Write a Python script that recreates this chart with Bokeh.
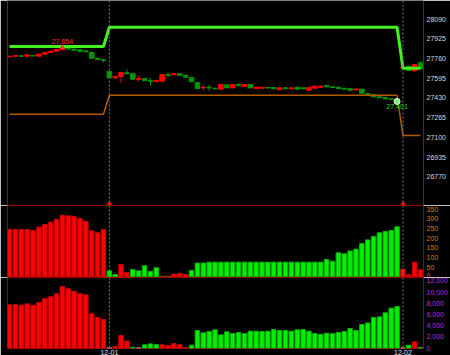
from bokeh.plotting import figure
from bokeh.layouts import column
from bokeh.models import Range1d, FixedTicker, NumeralTickFormatter, Span, ColumnDataSource
from bokeh.transform import factor_cmap
from bokeh.core.properties import value
from bokeh.embed import file_html
from bokeh.resources import INLINE

# ---------------- data ----------------
open_ = [27775, 27780, 27783, 27780, 27786, 27780, 27797, 27811, 27822, 27834, 27847, 27839, 27834, 27825, 27811, 27763, 27750,
         27652, 27599, 27610, 27641, 27633, 27585, 27593, 27577, 27568, 27571, 27627, 27624, 27633, 27621, 27602, 27560,
         27515, 27520, 27512, 27504, 27540, 27515, 27543, 27526, 27543, 27510, 27512, 27517, 27518, 27499, 27515, 27507,
         27520, 27515, 27495, 27512, 27520, 27535, 27524, 27520, 27512, 27507, 27498, 27504, 27468, 27457, 27440, 27434,
         27423, 27417,
         27680, 27694, 27660, 27725]
high = [27782, 27786, 27785, 27794, 27790, 27800, 27813, 27825, 27840, 27854, 27851, 27843, 27838, 27829, 27815, 27766, 27752,
        27655, 27612, 27646, 27669, 27636, 27618, 27597, 27599, 27580, 27630, 27643, 27636, 27636, 27624, 27605, 27563,
        27540, 27540, 27515, 27546, 27543, 27546, 27554, 27546, 27546, 27523, 27523, 27520, 27521, 27518, 27518, 27518,
        27523, 27518, 27521, 27532, 27532, 27538, 27527, 27523, 27515, 27510, 27510, 27507, 27470, 27460, 27443, 27437,
        27426, 27420,
        27688, 27697, 27713, 27738]
low = [27772, 27778, 27776, 27778, 27778, 27778, 27795, 27808, 27820, 27830, 27836, 27827, 27819, 27813, 27760, 27748, 27730,
       27596, 27587, 27560, 27628, 27584, 27568, 27573, 27535, 27565, 27568, 27599, 27621, 27618, 27601, 27562, 27506,
       27493, 27490, 27504, 27500, 27512, 27512, 27526, 27523, 27512, 27506, 27509, 27512, 27504, 27496, 27504, 27504,
       27501, 27504, 27492, 27509, 27517, 27521, 27515, 27506, 27501, 27492, 27490, 27467, 27459, 27437, 27429, 27420,
       27412, 27401,
       27677, 27657, 27646, 27672]
close = [27780, 27784, 27780, 27792, 27782, 27797, 27811, 27822, 27836, 27850, 27839, 27830, 27822, 27817, 27763, 27752, 27744,
         27599, 27610, 27643, 27633, 27587, 27591, 27577, 27571, 27577, 27627, 27621, 27633, 27621, 27604, 27566, 27510,
         27520, 27515, 27507, 27543, 27515, 27543, 27535, 27543, 27515, 27520, 27520, 27514, 27507, 27515, 27507, 27515,
         27504, 27507, 27518, 27529, 27529, 27524, 27518, 27510, 27504, 27495, 27505, 27470, 27462, 27440, 27432, 27423,
         27417, 27414,
         27685, 27660, 27710, 27675]

session_len = [17, 50, 4]
session_upper = [27861, 28023, 27680]
session_lower = [27294, 27453, 27116]
session_dates = ["11-30", "12-01", "12-02"]

vol1 = [245, 245, 245, 245, 240, 257, 271, 283, 297, 319, 316, 312, 302, 288, 238, 228, 243,
        31, 12, 64, 22, 38, 31, 57, 28, 47, 3, 3, 14, 17, 12, 33, 71, 71,
        76, 76, 76, 76, 76, 76, 76, 76, 76, 76, 76, 76, 76, 76, 76, 76, 76, 76, 76, 76,
        90, 81, 124, 119, 134, 143, 172, 191, 209, 228, 234, 240, 259,
        40, 10, 76, 36]
vol1_dir = (["up"] * 17
            + ["down", "down", "up", "up", "down", "down", "down", "down", "down", "flat", "flat", "up", "up", "up"]
            + ["down"] * 36
            + ["up"] * 4)

vol2 = [7720, 7780, 7660, 7900, 7660, 8140, 8790, 9150, 9680, 10990, 10570, 10100, 9680, 9500, 6120, 5520, 5110,
        60, 300, 2260, 1300, 180, 60, 600, 770, 650, 600, 480, 830, 600, 120, 530,
        3150, 2730, 2970, 3270, 2380, 2910, 2610, 2790, 2610, 3030, 3030, 2970, 3030, 3330, 3150, 3150, 3030, 3270,
        3330, 3030, 2610, 2490, 2670, 2610, 2790, 2970, 3500, 3150, 4220, 4510, 5460, 5580, 6300, 7130, 7420,
        40, 530, 1130, 120]
vol2_dir = (["up"] * 17
            + ["flat", "up", "up", "up", "down", "flat", "down", "down", "down", "up", "up", "up", "up", "up"]
            + ["down"] * 36
            + ["flat", "down", "up", "down"])

price_ticks = [26770, 26935, 27100, 27265, 27430, 27595, 27760, 27925, 28090]
vol1_ticks = [0, 50, 100, 150, 200, 250, 300, 350]
vol2_ticks = [0, 2000, 4000, 6000, 8000, 10000, 12000]

# ---------------- derived ----------------
n = len(close)
idx = list(range(n))
upper, lower = [], []
for L, u, l in zip(session_len, session_upper, session_lower):
    upper += [u] * L
    lower += [l] * L
starts = [sum(session_len[:k]) for k in range(len(session_len))]

BG = "#000000"
BORDER = "#9a0000"
FONT = "Liberation Sans"
UP = "#ff0000"
DOWN = "#009400"

xr = Range1d(-0.34, 70.5)


def make_fig(h, y0, y1, xaxis=False, outline=True):
    p = figure(width=450, height=h, output_backend="svg", toolbar_location=None,
               x_range=xr, y_range=Range1d(y0, y1), y_axis_location="right",
               x_axis_location="below" if xaxis else None,
               min_border_left=7, min_border_right=25, min_border_top=0, min_border_bottom=0,
               background_fill_color=BG, border_fill_color=BG,
               outline_line_color=BORDER if outline else None)
    p.grid.visible = False
    ax = p.yaxis[0]
    ax.axis_line_color = None
    ax.major_tick_line_color = None
    ax.minor_tick_line_color = None
    ax.major_tick_out = 0
    ax.major_tick_in = 0
    ax.major_label_standoff = 3
    ax.major_label_text_font = FONT
    ax.major_label_text_font_size = "7px"
    for s in starts[1:]:
        p.add_layout(Span(location=s, dimension="height", line_color="#7a7a7a",
                          line_dash="2 2", line_width=1))
    return p


# ---------------- price panel ----------------
p1 = make_fig(205, 26529.6, 28246.6, outline=False)
p1.add_layout(Span(location=xr.start, dimension="height", line_color=BORDER, line_width=1))
p1.add_layout(Span(location=xr.end, dimension="height", line_color=BORDER, line_width=1))
p1.add_layout(Span(location=p1.y_range.start, dimension="width", line_color=BORDER, line_width=1))
p1.yaxis.ticker = FixedTicker(ticks=price_ticks)
p1.yaxis.formatter = NumeralTickFormatter(format="0")
p1.yaxis.major_label_text_color = "#d8d8d8"

cols = [UP if c >= o else DOWN for o, c in zip(open_, close)]
src = ColumnDataSource(dict(x=idx, o=open_, h=high, l=low, c=close,
                            top=[max(o, c) for o, c in zip(open_, close)],
                            bot=[min(o, c) for o, c in zip(open_, close)],
                            col=cols))
p1.segment(x0="x", y0="h", x1="x", y1="l", color="col", line_width=1, source=src)
p1.vbar(x="x", top="top", bottom="bot", width=0.78, fill_color="col", line_color="col", source=src)

p1.line(idx, upper, line_color="#44f01e", line_width=3)
p1.line(idx, lower, line_color="#b45a00", line_width=1.5)

# session markers on the panel floor
p1.scatter(x=starts[1:], y=[p1.y_range.start] * (len(starts) - 1), marker="triangle",
           size=7, fill_color="#ff0000", line_color="#ff0000")

# high / low labels
ih = high.index(max(high))
il = low.index(min(low))
p1.text(x=[ih], y=[high[ih]], text=[f"{high[ih]:,}"], text_font=value(FONT), text_font_size="7px",
        text_color="#ff3030", text_align="center", text_baseline="bottom", y_offset=-3)
p1.scatter(x=[ih], y=[high[ih]], marker="triangle", size=4, fill_color="#ff3030", line_color="#ff3030")
p1.scatter(x=[il], y=[low[il]], marker="circle", size=6, fill_color="#7ee87e", line_color="#e0ffe0")
p1.text(x=[il], y=[low[il]], text=[f"{low[il]:,}"], text_font=value(FONT), text_font_size="7px",
        text_color="#22dd22", text_align="center", text_baseline="top", y_offset=3)

# ---------------- volume panel ----------------
p2 = make_fig(72, -3.6, 369.2)
p2.yaxis.ticker = FixedTicker(ticks=vol1_ticks)
p2.yaxis.formatter = NumeralTickFormatter(format="0")
p2.yaxis.major_label_text_color = "#d97a00"
s2 = ColumnDataSource(dict(x=idx, v=vol1, d=vol1_dir))
p2.vbar(x="x", top="v", bottom=0, width=0.76, source=s2,
        fill_color=factor_cmap("d", ["#ff0000", "#00f000", "#6a4a00"], ["up", "down", "flat"]),
        line_color=factor_cmap("d", ["#c80000", "#00b400", "#6a4a00"], ["up", "down", "flat"]))

# ---------------- open-interest panel ----------------
p3 = make_fig(80, -53, 12590, xaxis=True)
p3.yaxis.ticker = FixedTicker(ticks=vol2_ticks)
p3.yaxis.formatter = NumeralTickFormatter(format="0,0")
p3.yaxis.major_label_text_color = "#cc22cc"
s3 = ColumnDataSource(dict(x=idx, v=vol2, d=vol2_dir))
p3.vbar(x="x", top="v", bottom=0, width=0.76, source=s3,
        fill_color=factor_cmap("d", ["#ff0000", "#00f000", "#8a8a8a"], ["up", "down", "flat"]),
        line_color=factor_cmap("d", ["#c80000", "#00b400", "#8a8a8a"], ["up", "down", "flat"]))
xa = p3.xaxis[0]
xa.ticker = FixedTicker(ticks=starts[1:])
xa.major_label_overrides = {s: d for s, d in zip(starts[1:], session_dates[1:])}
xa.axis_line_color = None
xa.major_tick_line_color = None
xa.minor_tick_line_color = None
xa.major_tick_out = 0
xa.major_tick_in = 0
xa.major_label_standoff = 1
xa.major_label_text_font = FONT
xa.major_label_text_font_size = "7px"
xa.major_label_text_color = "#e0e0e0"

layout = column(p1, p2, p3, spacing=0)
open("out.html", "w").write(file_html(layout, INLINE))
